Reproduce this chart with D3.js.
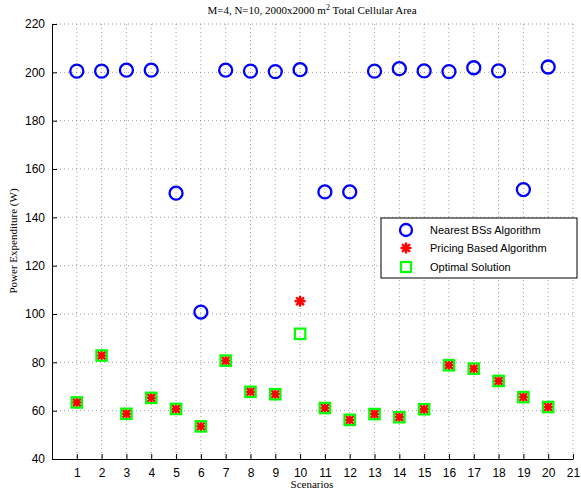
<!DOCTYPE html>
<html><head><meta charset="utf-8">
<script src="https://cdn.jsdelivr.net/npm/d3@7"></script>
<style>body{margin:0;background:#fff}svg{display:block}</style>
</head><body>
<svg id="c" width="581" height="493"></svg>
<script>
const scenarios = d3.range(1, 21);
const nearest = [200.5,200.5,200.9,200.9,150,100.8,200.9,200.5,200.3,201.1,150.5,150.5,200.5,201.5,200.6,200.3,201.9,200.6,151.5,202.2];
const pricing = [63.4,82.8,58.7,65.3,60.7,53.5,80.7,67.8,66.8,105.3,61.1,56.2,58.6,57.3,60.6,78.8,77.4,72.3,65.6,61.5];
const optimal = [63.4,82.8,58.7,65.3,60.7,53.5,80.7,67.8,66.8,91.8,61.1,56.2,58.6,57.3,60.6,78.8,77.4,72.3,65.6,61.5];
const xTicks = d3.range(1, 22);
const yTicks = d3.range(40, 221, 20);
const legendLabels = ["Nearest BSs Algorithm","Pricing Based Algorithm","Optimal Solution"];

const svg = d3.select("#c");
const L = 52, R = 573, T = 24, B = 459;
const x = d3.scaleLinear().domain([0, 21]).range([L, R]);
const y = d3.scaleLinear().domain([40, 220]).range([B, T]);

// grid
const grid = svg.append("g").attr("stroke", "#777").attr("stroke-width", 0.7).attr("stroke-dasharray", "1,3");
grid.selectAll(".gx").data(xTicks).join("line").attr("x1", d => x(d)).attr("x2", d => x(d)).attr("y1", T).attr("y2", B);
grid.selectAll(".gy").data(yTicks.slice(1)).join("line").attr("x1", L).attr("x2", R).attr("y1", d => y(d)).attr("y2", d => y(d));

// axes
const ax = svg.append("g").attr("transform", `translate(0,${B})`)
  .call(d3.axisBottom(x).tickValues(xTicks).tickSize(-5).tickPadding(9).tickSizeOuter(0));
const ay = svg.append("g").attr("transform", `translate(${L},0)`)
  .call(d3.axisLeft(y).tickValues(yTicks).tickSize(-5).tickPadding(7).tickSizeOuter(0));
[ax, ay].forEach(a => {
  a.select(".domain").attr("stroke", "#000").attr("stroke-width", 1);
  a.selectAll(".tick line").attr("stroke", "#000");
  a.selectAll("text").attr("font-family", "Liberation Sans, Arial, sans-serif").attr("font-size", 12).attr("fill", "#000");
});

function star(sel, cx, cy, r) {
  const gs = sel.append("g").attr("transform", `translate(${cx},${cy})`).attr("stroke", "#ff0000").attr("stroke-width", 2.4);
  [0, 45, 90, 135].forEach(a => {
    const rad = a * Math.PI / 180;
    gs.append("line").attr("x1", -r * Math.cos(rad)).attr("y1", -r * Math.sin(rad)).attr("x2", r * Math.cos(rad)).attr("y2", r * Math.sin(rad));
  });
}

// markers
const g = svg.append("g");
g.selectAll(".near").data(scenarios).join("circle")
  .attr("cx", d => x(d)).attr("cy", (d,i) => y(nearest[i])).attr("r", 6.5)
  .attr("fill", "none").attr("stroke", "#0000ff").attr("stroke-width", 2.3);
scenarios.forEach((d, i) => star(g, x(d), y(pricing[i]), 5.5));
g.selectAll(".opt").data(scenarios).join("rect")
  .attr("x", (d,i) => x(d) - 5.2).attr("y", (d,i) => y(optimal[i]) - 5.2)
  .attr("width", 10.4).attr("height", 10.4).attr("fill", "none").attr("stroke", "#00ff00").attr("stroke-width", 2.2);

// legend
const lg = svg.append("g");
lg.append("rect").attr("x", 381).attr("y", 218).attr("width", 196).attr("height", 60).attr("fill", "#fff").attr("stroke", "#000").attr("stroke-width", 1);
const rows = [230, 248, 267];
lg.append("circle").attr("cx", 406).attr("cy", rows[0]).attr("r", 6).attr("fill", "none").attr("stroke", "#0000ff").attr("stroke-width", 2.3);
star(lg, 406, rows[1], 5.5);
lg.append("rect").attr("x", 401).attr("y", rows[2] - 5).attr("width", 10).attr("height", 10).attr("fill", "none").attr("stroke", "#00ff00").attr("stroke-width", 2.2);
lg.selectAll(".lt").data(legendLabels).join("text")
  .attr("x", 430).attr("y", (d,i) => rows[i] + 4).text(d => d)
  .attr("font-family", "Liberation Sans, Arial, sans-serif").attr("font-size", 11).attr("fill", "#000");

// titles
const serif = "Liberation Serif, Times New Roman, serif";
const title = svg.append("text").attr("x", 312).attr("y", 14).attr("text-anchor", "middle")
  .attr("font-family", serif).attr("font-size", 11).attr("fill", "#000");
title.append("tspan").text("M=4, N=10, 2000x2000 m");
title.append("tspan").text("2").attr("font-size", 8).attr("dy", -4);
title.append("tspan").text(" Total Cellular Area").attr("dy", 4);
svg.append("text").attr("x", 312).attr("y", 488).attr("text-anchor", "middle")
  .attr("font-family", serif).attr("font-size", 11).text("Scenarios");
svg.append("text").attr("transform", "translate(17,241) rotate(-90)").attr("text-anchor", "middle")
  .attr("font-family", serif).attr("font-size", 11).text("Power Expenditure (W)");
</script>
</body></html>
